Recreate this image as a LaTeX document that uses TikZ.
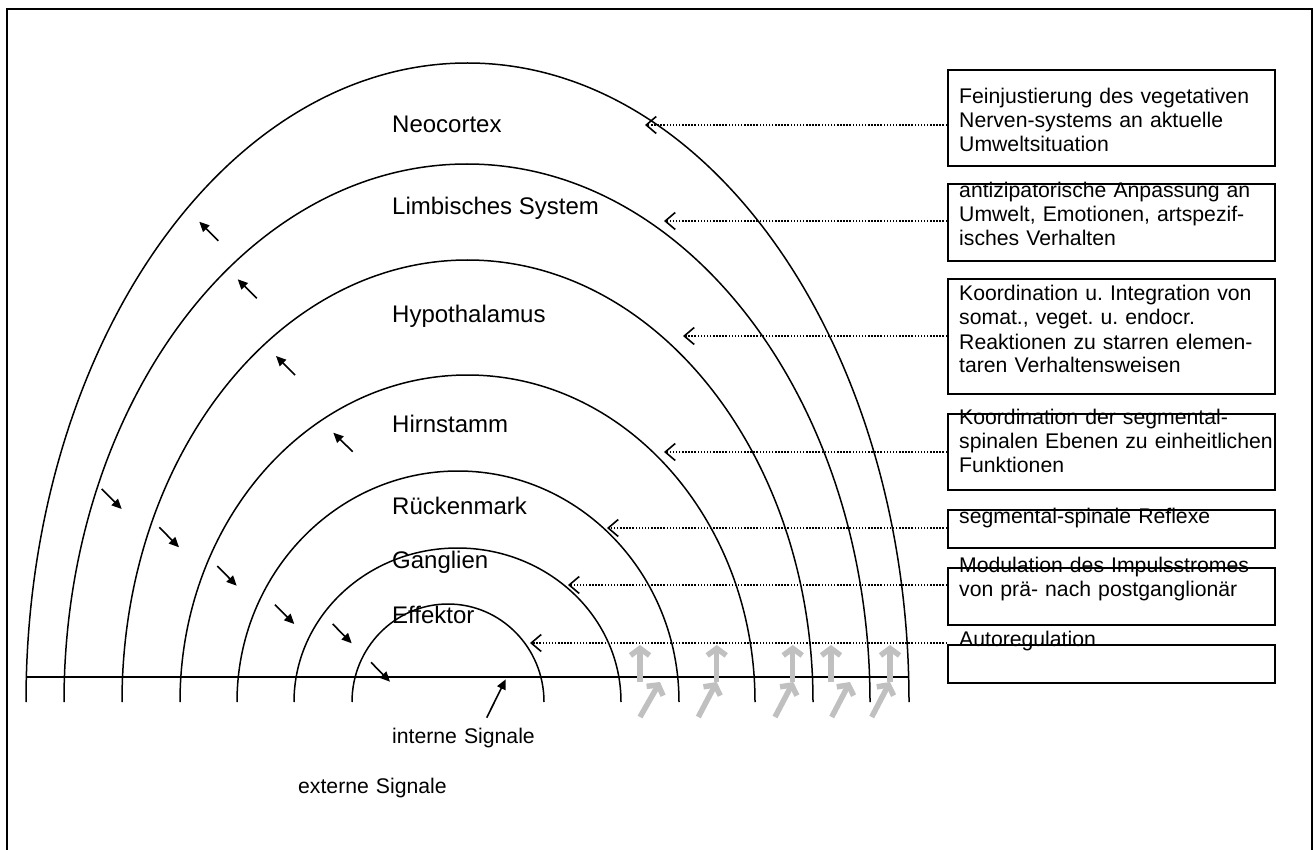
\documentclass[tikz,border=0pt]{standalone}
\usepackage{fontspec}
\setmainfont{Liberation Sans}
\usetikzlibrary{arrows.meta}
\definecolor{signalgrey}{RGB}{192,192,192}

\begin{document}
\frenchspacing
\begin{tikzpicture}[x=1pt,y=-1pt,
  frame/.style={line width=1.6pt},
  layer/.style={line width=1.5pt},
  lbl/.style={anchor=base west, inner sep=0pt, font=\fontsize{24}{28}\selectfont},
  note/.style={anchor=base west, inner sep=0pt, text width=330pt, align=left,
               font=\fontsize{21.2}{24}\selectfont\frenchspacing},
  infobox/.style={draw, line width=2pt, anchor=north west, minimum width=327pt, inner sep=0pt},
  conn/.style={line width=1.5pt, dash pattern=on 1.5pt off 1.6pt,
               -{Straight Barb[length=10pt,width=17pt,line width=1.6pt]}},
  flow/.style={line width=1.6pt, -{Triangle[length=10pt,width=9pt]}},
  signal/.style={line width=5.5pt, signalgrey, -{Straight Barb[length=7pt,width=19pt]}},
]
\useasboundingbox (0,0) rectangle (1314,850);

% outer frame (runs past the lower page edge)
\draw[frame] (7,9) rectangle (1312,870);

% nested layers: half ellipses standing on the base line
\draw[layer] (26,702)  arc[start angle=180, end angle=360, x radius=441.5, y radius=639];
\draw[layer] (64,702)  arc[start angle=180, end angle=360, x radius=403,   y radius=538];
\draw[layer] (122,702) arc[start angle=180, end angle=360, x radius=345.5, y radius=442];
\draw[layer] (180,702) arc[start angle=180, end angle=360, x radius=287.5, y radius=327];
\draw[layer] (237,702) arc[start angle=180, end angle=360, x radius=221,   y radius=231];
\draw[layer] (294,702) arc[start angle=180, end angle=360, x radius=163.5, y radius=154];
\draw[layer] (352,702) arc[start angle=180, end angle=360, x radius=96,    y radius=98];

% base line
\coordinate (baseL) at (26,677);
\coordinate (baseR) at (909,677);
\draw[layer] (baseL) -- (baseR);

% layer names
\node[lbl] (neo)  at (392,133) {Neocortex};
\node[lbl] (limb) at (392,215) {Limbisches System};
\node[lbl] (hypo) at (392,323) {Hypothalamus};
\node[lbl] (hirn) at (392,432) {Hirnstamm};
\node[lbl] (rm)   at (392,514) {Rückenmark};
\node[lbl] (gang) at (392,568) {Ganglien};
\node[lbl] (eff)  at (392,623) {Effektor};

% function boxes
\node[infobox, minimum height=96pt]  (box1) at (947,69)  {};
\node[infobox, minimum height=77pt]  (box2) at (947,183) {};
\node[infobox, minimum height=115pt] (box3) at (947,278) {};
\node[infobox, minimum height=76pt]  (box4) at (947,413) {};
\node[infobox, minimum height=38pt]  (box5) at (947,509) {};
\node[infobox, minimum height=57pt]  (box6) at (947,567) {};
\node[infobox, minimum height=38pt]  (box7) at (947,644) {};

% box texts
\node[note] (t1) at (959,104) {Feinjustierung des vegetativen\\Nerven-systems an aktuelle\\Umweltsituation};
\node[note] (t2) at (959,198) {antizipatorische Anpassung an\\Umwelt, Emotionen, artspezif-\\isches Verhalten};
\node[note] (t3) at (959,301) {Koordination u. Integration von\\somat., veget. u. endocr.\\Reaktionen zu starren elemen-\\taren Verhaltensweisen};
\node[note] (t4) at (959,424) {Koordination der segmental-\\spinalen Ebenen zu einheitlichen\\Funktionen};
\node[note] (t5) at (959,523) {segmental-spinale Reflexe};
\node[note] (t6) at (959,572) {Modulation des Impulsstromes\\von prä- nach postganglionär};
\node[note] (t7) at (959,646) {Autoregulation};

% dotted connectors from the boxes to their layers
\coordinate (n1) at (645,125);
\coordinate (n2) at (664,221);
\coordinate (n3) at (683,336);
\coordinate (n4) at (664,452);
\coordinate (n5) at (607,528);
\coordinate (n6) at (568,585);
\coordinate (n7) at (530,643);
\foreach \i in {1,...,7}
  \draw[conn] (box\i.west |- n\i) -- (n\i);

% ascending pathway arrows
\foreach \i/\ax/\ay/\bx/\by in {1/218.3/240.7/199.3/221.7, 2/256.7/298.3/237.7/279.3,
                                3/295/375/276/356, 4/352.7/451.7/333.3/432.7}{
  \coordinate (upS\i) at (\ax,\ay);
  \coordinate (upE\i) at (\bx,\by);
  \draw[flow] (upS\i) -- (upE\i);
}

% descending pathway arrows
\foreach \i/\ax/\ay/\bx/\by in {1/101.7/489/121.7/509, 2/159.3/527.3/179/547.3,
                                3/217.3/566/236.7/585.7, 4/275/604.7/294.3/624,
                                5/332.7/624/351.7/643.3, 6/371/662.3/390/681.7}{
  \coordinate (dnS\i) at (\ax,\ay);
  \coordinate (dnE\i) at (\bx,\by);
  \draw[flow] (dnS\i) -- (dnE\i);
}

% internal signals
\node[note, text width=200pt] (intern) at (392,743) {interne Signale};
\coordinate (inS) at (486.7,717.7);
\coordinate (inE) at (505.7,679.3);
\draw[flow] (inS) -- (inE);

% external signals
\node[note, text width=200pt] (extern) at (298,793) {externe Signale};

% grey external signal arrows
\foreach \i/\x in {1/640, 2/716.7, 3/792.7, 4/831, 5/890}{
  \coordinate (vS\i) at (\x,682);
  \coordinate (vE\i) at (\x,645);
  \draw[signal] (vS\i) -- (vE\i);
}
\foreach \i/\ax/\bx in {1/640/660, 2/698.3/716.7, 3/775/793.3, 4/831.7/850, 5/871.7/890}{
  \coordinate (gS\i) at (\ax,717);
  \coordinate (gE\i) at (\bx,682);
  \draw[signal] (gS\i) -- (gE\i);
}
\end{tikzpicture}
\end{document}
